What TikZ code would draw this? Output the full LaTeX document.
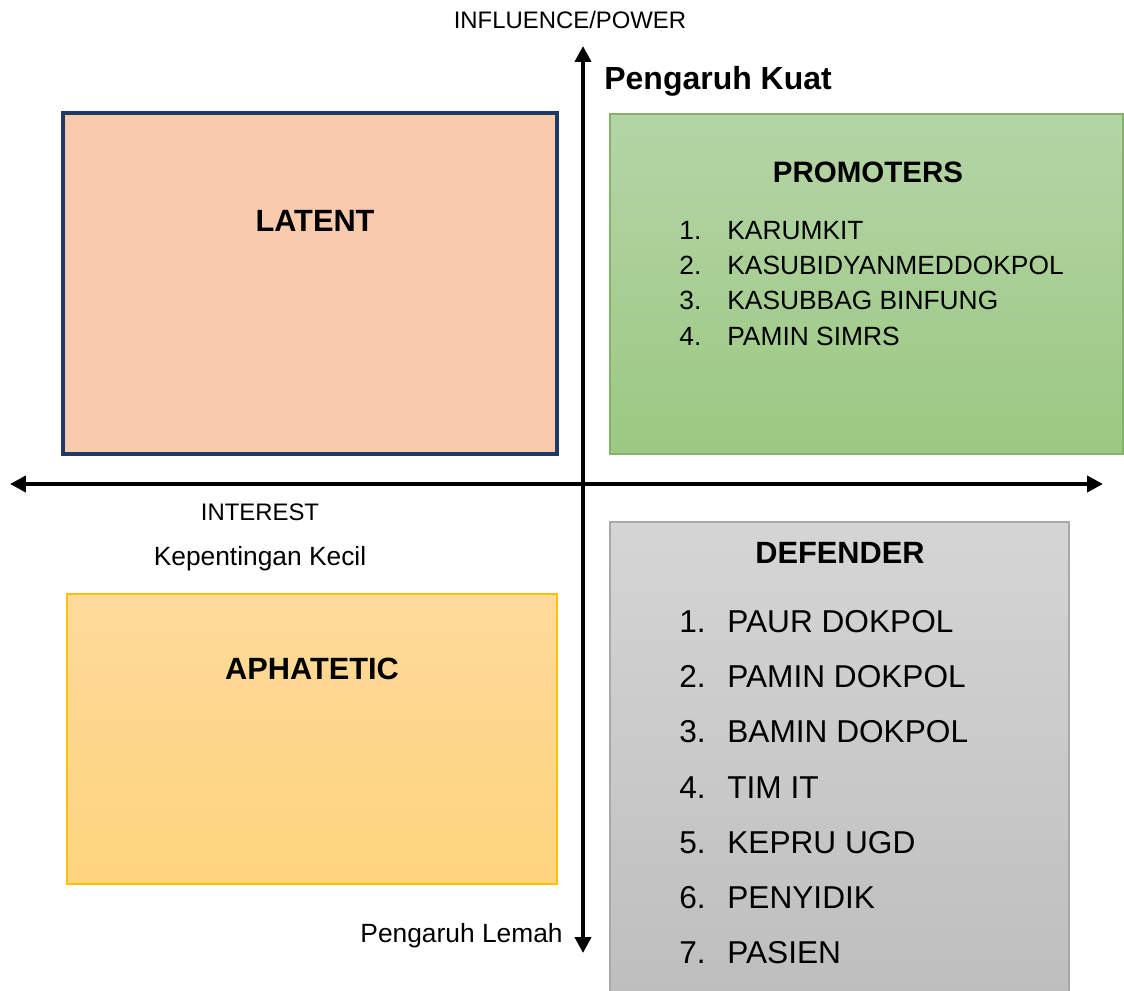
\documentclass[tikz,border=0pt]{standalone}
\usepackage{fontspec}
\setmainfont{Liberation Sans}
\usetikzlibrary{
    arrows.meta, positioning, calc
}
\definecolor{latentFill}{HTML}{F8CBAD}
\definecolor{latentLine}{HTML}{1F3864}
\definecolor{promoTop}{HTML}{B4D5A6}
\definecolor{promoBot}{HTML}{9CC882}
\definecolor{promoLine}{HTML}{82B366}
\definecolor{defTop}{HTML}{D5D5D5}
\definecolor{defBot}{HTML}{BEBEBE}
\definecolor{defLine}{HTML}{A8A8A8}
\definecolor{apaTop}{HTML}{FEDA9B}
\definecolor{apaBot}{HTML}{FED47D}
\definecolor{apaLine}{HTML}{FFC000}
\tikzset{
    axisLine/.style={line width=2.5pt, {Triangle[length=9pt,width=9pt]}-{Triangle[length=9pt,width=9pt]}},
    boxTitle/.style={font=\bfseries\fontsize{17.5}{20}\selectfont, inner sep=0pt, anchor=base},
    axisText/.style={font=\fontsize{13.6}{16}\selectfont, inner sep=0pt, anchor=base},
    sideText/.style={font=\fontsize{15}{18}\selectfont, inner sep=0pt, anchor=base},
    promoItem/.style={font=\fontsize{15}{18}\selectfont, inner sep=0pt, anchor=base west},
    defItem/.style={font=\fontsize{18}{21}\selectfont, inner sep=0pt, anchor=base west}
}
\begin{document}
\begin{tikzpicture}[x=0.02cm, y=-0.02cm]
        \useasboundingbox (0,0) rectangle (1124,990);
        % Quadrants
        \draw[fill=latentFill, draw=latentLine, line width=1.8pt] (63,113) rectangle (557,454);
        \draw[top color=promoTop, bottom color=promoBot, draw=promoLine, line width=0.8pt] (610,114) rectangle (1123,454);
        \draw[top color=defTop, bottom color=defBot, draw=defLine, line width=0.8pt] (610,522) rectangle (1069,995);
        \draw[top color=apaTop, bottom color=apaBot, draw=apaLine, line width=0.8pt] (67,594) rectangle (557,884);

        % Axes
        \coordinate (yTop) at (583,46);
        \coordinate (yBot) at (583,953);
        \coordinate (xLeft) at (10,484);
        \coordinate (xRight) at (1103,484);
        \draw[axisLine] (yBot) -- (yTop);
        \draw[axisLine] (xLeft) -- (xRight);

        % Axis labels
        \node[axisText] (power) at (570,29) {INFLUENCE/POWER};
        \node[boxTitle, anchor=base west, font=\bfseries\fontsize{18.2}{21}\selectfont] (kuat) at (604,89.5) {Pengaruh Kuat};
        \node[axisText] (interest) at (260,520.5) {INTEREST};
        \node[sideText] (kecil) at (260,565.5) {Kepentingan Kecil};
        \node[sideText, anchor=base east] (lemah) at (563,942) {Pengaruh Lemah};

        % Titles
        \node[boxTitle] (latent) at (315,231) {LATENT};
        \node[boxTitle, font=\bfseries\fontsize{16.8}{20}\selectfont] (promoters) at (868,182.5) {PROMOTERS};
        \node[boxTitle] (defender) at (840,563) {DEFENDER};
        \node[boxTitle] (aphatetic) at (312,679) {APHATETIC};

        % Promoters list
        \foreach \i/\t/\yy in {1/KARUMKIT/239.5, 2/KASUBIDYANMEDDOKPOL/274.5, 3/KASUBBAG BINFUNG/309.5, 4/PAMIN SIMRS/345.5} {
            \node[promoItem] (pn\i) at (679,\yy) {\i.};
            \node[promoItem] (pt\i) at (727,\yy) {\t};
        }

        % Defender list
        \foreach \i/\t/\yy in {1/PAUR DOKPOL/632.5, 2/PAMIN DOKPOL/687.5, 3/BAMIN DOKPOL/742.5, 4/TIM IT/798.5, 5/KEPRU UGD/853.5, 6/PENYIDIK/908.5, 7/PASIEN/963.5} {
            \node[defItem] (dn\i) at (679,\yy) {\i.};
            \node[defItem] (dt\i) at (727,\yy) {\t};
        }
\end{tikzpicture}
\end{document}
